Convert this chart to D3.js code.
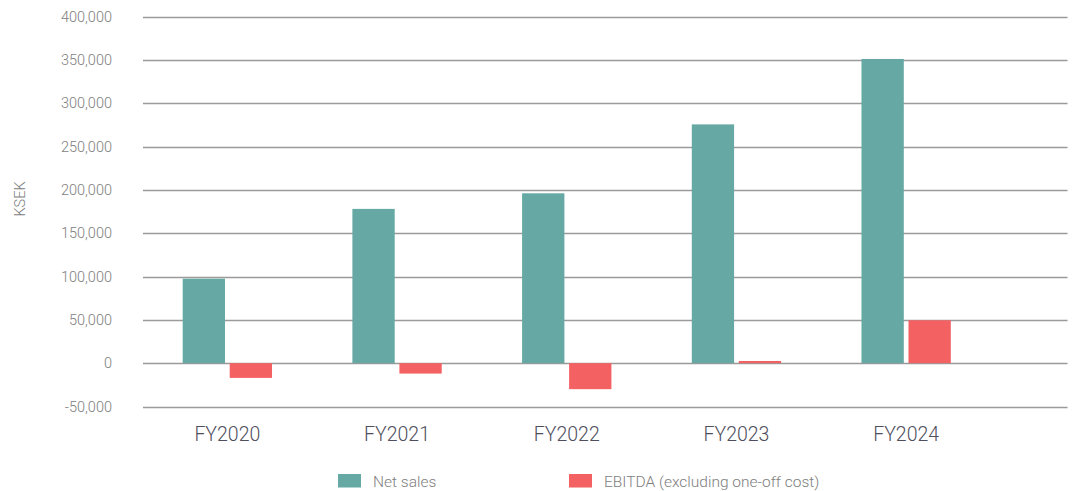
<!DOCTYPE html>
<html>
<head>
<meta charset="utf-8">
<script src="https://cdn.jsdelivr.net/npm/d3@7"></script>
<style>
  html, body { margin: 0; padding: 0; background: #fff; }
  svg { display: block; font-family: Roboto, "DejaVu Sans", sans-serif; font-weight: 300; }
</style>
</head>
<body>
<svg id="chart" width="1072" height="491"></svg>
<script>
const categories = ["FY2020", "FY2021", "FY2022", "FY2023", "FY2024"];
const seriesNames = ["Net sales", "EBITDA (excluding one-off cost)"];
const netSales = [97500, 178000, 196000, 275500, 351000];
const ebitda = [-17000, -12000, -30000, 2500, 49500];
const yTicks = [-50000, 0, 50000, 100000, 150000, 200000, 250000, 300000, 350000, 400000];
const colors = ["#66a9a4", "#f36163"];

const svg = d3.select("#chart");
const gridLeft = 143, gridRight = 1067.5;

const y = d3.scaleLinear().domain([-50000, 400000]).range([406.5, 16.5]);
const x0 = d3.scaleBand().domain(categories).range([142.5, 991]).padding(0);
const x1 = d3.scaleBand().domain(seriesNames).range([0, x0.bandwidth()])
  .paddingInner(0.1).paddingOuter(0.855);

// gridlines
svg.append("g").selectAll("line").data(yTicks).join("line")
  .attr("x1", gridLeft).attr("x2", gridRight)
  .attr("y1", d => Math.round(y(d)) + 0.5).attr("y2", d => Math.round(y(d)) + 0.5)
  .attr("stroke", "#9a9a9a").attr("stroke-width", 1.3);

// y axis labels
const fmt = v => d3.format(",")(v).replace("\u2212", "-");
svg.append("g").selectAll("text").data(yTicks).join("text")
  .attr("x", 112).attr("y", d => y(d)).attr("dy", "0.35em")
  .attr("text-anchor", "end").attr("font-size", 14.5).attr("fill", "#7e7e7e")
  .text(d => fmt(d));

// y title
svg.append("text").attr("transform", "translate(25,199) rotate(-90)")
  .attr("text-anchor", "middle").attr("font-size", 14.5).attr("fill", "#7e7e7e")
  .text("KSEK");

// bars
const rows = categories.map((c, i) => ({ cat: c, vals: [netSales[i], ebitda[i]] }));
const g = svg.append("g").selectAll("g").data(rows).join("g")
  .attr("transform", d => `translate(${x0(d.cat)},0)`);
g.selectAll("rect").data(d => d.vals.map((v, j) => ({ s: seriesNames[j], v, j })))
  .join("rect")
  .attr("x", d => x1(d.s)).attr("width", x1.bandwidth())
  .attr("y", d => Math.min(y(d.v), y(0)))
  .attr("height", d => Math.abs(y(d.v) - y(0)))
  .attr("fill", d => colors[d.j]);

// x axis labels
svg.append("g").selectAll("text").data(categories).join("text")
  .attr("x", d => x0(d) + x0.bandwidth() / 2).attr("y", 441)
  .attr("text-anchor", "middle").attr("font-size", 19.5).attr("fill", "#4e4e5c")
  .text(d => d);

// legend
const legX = [338, 569];
const leg = svg.append("g").selectAll("g").data(seriesNames).join("g")
  .attr("transform", (d, i) => `translate(${legX[i]},474)`);
leg.append("rect").attr("width", 23).attr("height", 13.5).attr("fill", (d, i) => colors[i]);
leg.append("text").attr("x", 35).attr("y", 12.5).attr("font-size", 15.5).attr("fill", "#7e7e7e")
  .text(d => d);
</script>
</body>
</html>
